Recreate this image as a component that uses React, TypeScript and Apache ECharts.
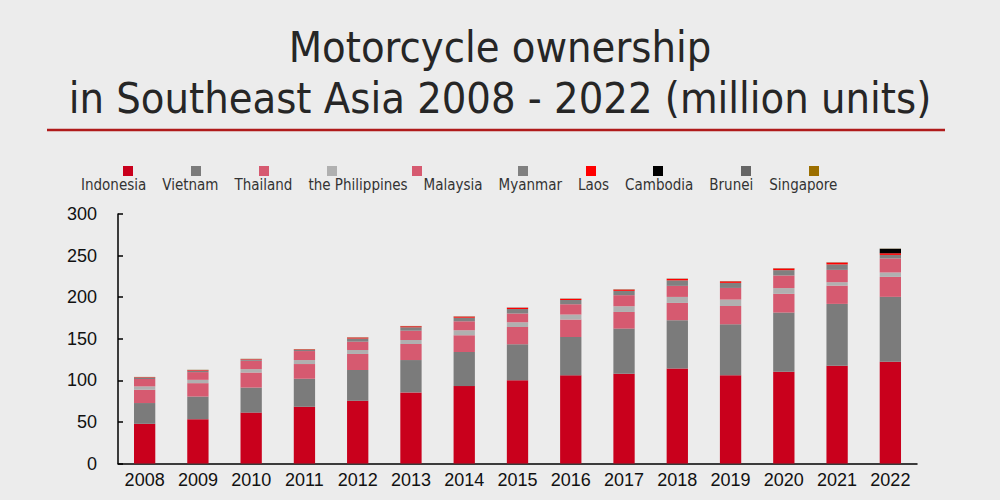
import React, { useEffect, useRef } from "react";
import * as echarts from "echarts";

const years = ["2008", "2009", "2010", "2011", "2012", "2013", "2014", "2015", "2016", "2017", "2018", "2019", "2020", "2021", "2022"];
const yTicks = { min: 0, max: 300, interval: 50 };

const indonesia = [47.7, 53.3, 61.2, 68.2, 75.4, 85.5, 93.1, 100, 106, 108, 114.1, 106, 110.4, 117.6, 122.4];
const vietnam = [25, 27.2, 30.1, 33.7, 37, 38.9, 41, 43.4, 46.1, 54.2, 58.2, 61.4, 71.1, 74.3, 78];
const thailand = [16, 16.1, 18.1, 17.7, 19.3, 19.3, 20.1, 20.8, 21, 20, 20.8, 22, 22.5, 22, 24];
const philippines = [4, 4, 4.1, 4.8, 4.8, 4.8, 6, 5.7, 6, 6.9, 7.2, 7.7, 6.9, 4.1, 5.3];
const malaysia = [8.9, 9.3, 10, 10.8, 10, 11.2, 10.8, 10.5, 12.4, 13.3, 13.3, 14, 15.2, 14.8, 16.9];
const myanmar = [1.5, 1.7, 1.4, 1.4, 3.8, 4.1, 4.3, 5.4, 5.1, 5.2, 6.6, 6.1, 6.4, 6.6, 4.2];
const laos = [0.6, 0.7, 0.6, 0.6, 1.1, 1.2, 1.3, 1.4, 1.4, 1.5, 1.8, 1.8, 2, 2.2, 2];
const cambodia = [0, 0, 0, 0, 0, 0, 0, 0, 0, 0, 0, 0, 0, 0, 5.3];
const brunei = [0.25, 0.25, 0.25, 0.25, 0.25, 0.25, 0.25, 0.25, 0.25, 0.25, 0.25, 0.25, 0.25, 0.25, 0.25];
const singapore = [0.15, 0.15, 0.15, 0.15, 0.15, 0.15, 0.15, 0.15, 0.15, 0.15, 0.15, 0.15, 0.15, 0.15, 0.15];

const seriesNames = ["Indonesia", "Vietnam", "Thailand", "the Philippines", "Malaysia", "Myanmar", "Laos", "Cambodia", "Brunei", "Singapore"];
const seriesData = [indonesia, vietnam, thailand, philippines, malaysia, myanmar, laos, cambodia, brunei, singapore];
const seriesColors = ["#c9001c", "#7b7b7b", "#d65a70", "#b0b0b0", "#d65a70", "#808080", "#ff0000", "#000000", "#666666", "#9c6f00"];

const iconLefts = [123, 191, 259, 327, 412, 518, 586, 653, 741, 809];

const NARROW = "'DejaVu Sans Condensed', 'Liberation Sans Narrow', sans-serif";
const AXISFONT = "'Liberation Sans', Arial, sans-serif";

export default function App() {
  const ref = useRef<HTMLDivElement>(null);
  useEffect(() => {
    if (!ref.current) return;
    const chart = echarts.init(ref.current, undefined, { renderer: "svg" });
    const iconLegends = seriesNames.map((n, i) => ({
      data: [n],
      left: iconLefts[i],
      top: 166,
      itemWidth: 10,
      itemHeight: 10,
      icon: "rect",
      selectedMode: false,
      formatter: () => "",
      padding: 0,
    }));
    chart.setOption({
      animation: false,
      backgroundColor: "#ececec",
      title: {
        text: "Motorcycle ownership\nin Southeast Asia 2008 - 2022 (million units)",
        left: "center",
        top: 16,
        textStyle: {
          fontFamily: NARROW,
          fontSize: 43,
          lineHeight: 51,
          fontWeight: "normal",
          color: "#262626",
        },
      },
      graphic: [
        {
          type: "line",
          shape: { x1: 47, y1: 130, x2: 945, y2: 130 },
          style: { stroke: "#b01b1b", lineWidth: 2.5 },
        },
      ],
      legend: [
        ...iconLegends,
        {
          data: seriesNames,
          left: 76,
          top: 177,
          icon: "none",
          itemWidth: 0,
          itemHeight: 14,
          itemGap: 11,
          padding: 0,
          selectedMode: false,
          textStyle: { fontFamily: NARROW, fontSize: 15, color: "#333" },
        },
      ],
      grid: { left: 118, right: 83, top: 214, bottom: 36.5, containLabel: false },
      xAxis: {
        type: "category",
        data: years,
        axisLine: { lineStyle: { color: "#000", width: 1.5 } },
        axisTick: { show: false },
        axisLabel: { fontSize: 18, color: "#111", fontFamily: AXISFONT, margin: 7 },
      },
      yAxis: {
        type: "value",
        min: yTicks.min,
        max: yTicks.max,
        interval: yTicks.interval,
        axisLine: { show: true, lineStyle: { color: "#000", width: 1.5 } },
        axisTick: { show: true, inside: true, length: 5, lineStyle: { color: "#000", width: 1.5 } },
        splitLine: { show: false },
        axisLabel: { fontSize: 18, color: "#111", fontFamily: AXISFONT, margin: 21 },
      },
      series: seriesNames.map((n, i) => ({
        name: n,
        type: "bar",
        stack: "total",
        barWidth: "40%",
        data: seriesData[i],
        itemStyle: { color: seriesColors[i] },
      })),
    });
    return () => chart.dispose();
  }, []);
  return <div ref={ref} style={{ position: "absolute", left: 0, top: 0, width: 1000, height: 500 }} />;
}
